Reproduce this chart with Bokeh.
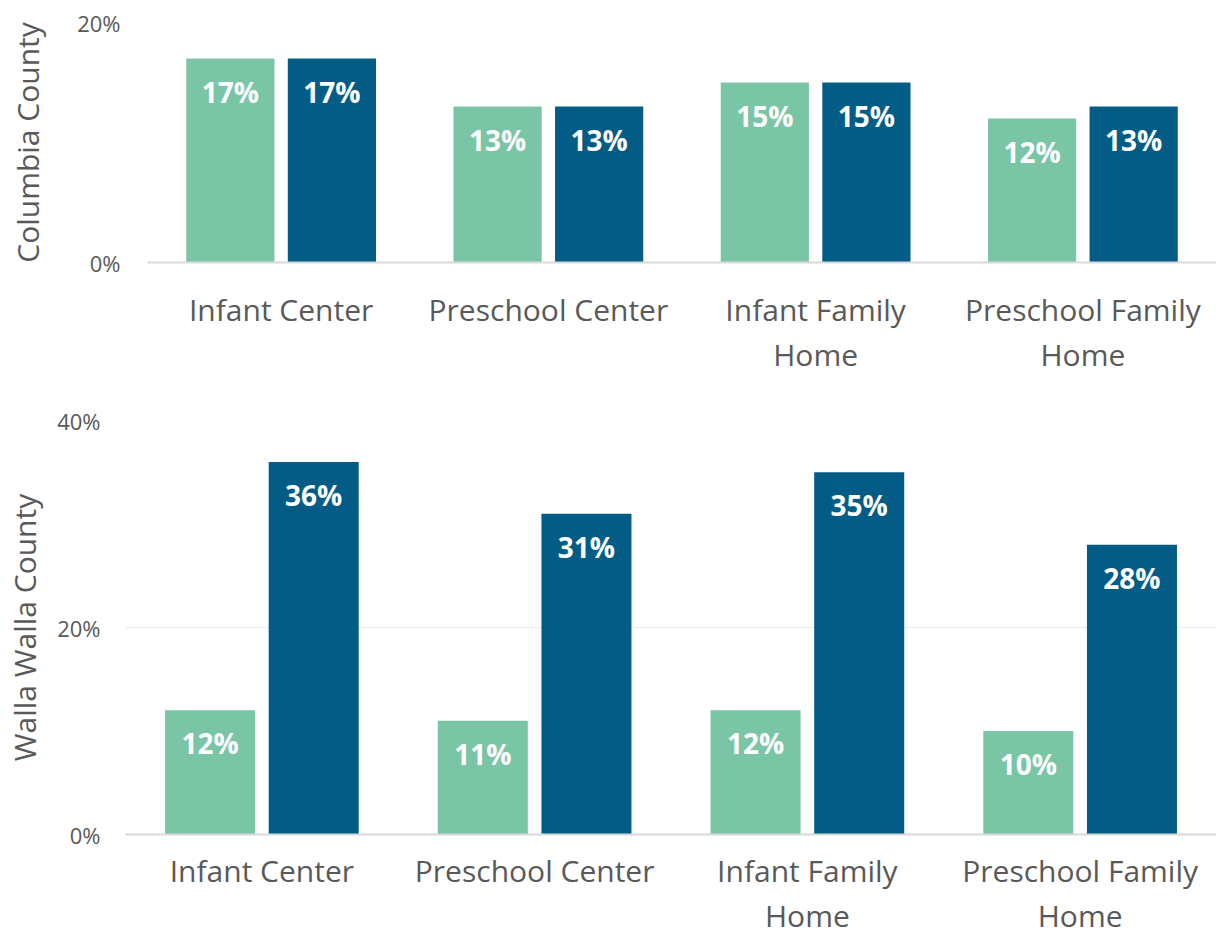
from bokeh.plotting import figure
from bokeh.models import ColumnDataSource, FactorRange, Range1d, FixedTicker, PrintfTickFormatter
from bokeh.transform import dodge
from bokeh.layouts import column, row
from bokeh.embed import file_html
from bokeh.resources import INLINE
from bokeh.core.properties import value

categories = ["Infant Center", "Preschool Center", "Infant Family\nHome", "Preschool Family\nHome"]

columbia_green = [17, 13, 15, 12]
columbia_blue = [17, 13, 15, 13]
walla_green = [12, 11, 12, 10]
walla_blue = [36, 31, 35, 28]

GREEN = "#7BC5A7"
BLUE = "#035C85"
GREY = "#595959"
FONT = "Open Sans"


def panel(green, blue, ymax, yticks, ylabel, height, top, bottom, left, label_standoff, tick_standoff, x_standoff):
    src = ColumnDataSource(dict(
        cat=categories,
        green=green,
        blue=blue,
        gtxt=[f"{v}%" for v in green],
        btxt=[f"{v}%" for v in blue],
    ))
    p = figure(x_range=FactorRange(*categories), y_range=Range1d(0, ymax),
               width=1216, height=height, output_backend="svg", toolbar_location=None,
               min_border_top=top, min_border_bottom=bottom, min_border_left=left,
               min_border_right=0)
    p.outline_line_color = None
    p.background_fill_color = "white"
    p.border_fill_color = "white"

    p.vbar(x=dodge("cat", -0.19, range=p.x_range), top="green", width=0.33, source=src,
           fill_color=GREEN, line_color=None)
    p.vbar(x=dodge("cat", 0.19, range=p.x_range), top="blue", width=0.33, source=src,
           fill_color=BLUE, line_color=None)
    for key, off, ycol in (("gtxt", -0.19, "green"), ("btxt", 0.19, "blue")):
        p.text(x=dodge("cat", off, range=p.x_range), y=ycol, text=key, source=src,
               text_color="white", text_font=value(FONT), text_font_style="bold",
               text_font_size="28px", text_align="center", text_baseline="middle",
               y_offset=33)

    # y axis
    p.yaxis.ticker = FixedTicker(ticks=yticks)
    p.yaxis.formatter = PrintfTickFormatter(format="%d%%")
    p.yaxis.axis_line_color = None
    p.yaxis.major_tick_line_color = None
    p.yaxis.minor_tick_line_color = None
    p.yaxis.major_tick_out = 0
    p.yaxis.major_tick_in = 0
    p.yaxis.major_label_text_font = FONT
    p.yaxis.major_label_text_font_size = "22px"
    p.yaxis.major_label_text_color = GREY
    p.yaxis.major_label_standoff = tick_standoff
    p.yaxis.axis_label = ylabel
    p.yaxis.axis_label_text_font = FONT
    p.yaxis.axis_label_text_font_size = "30px"
    p.yaxis.axis_label_text_font_style = "normal"
    p.yaxis.axis_label_text_color = GREY
    p.yaxis.axis_label_standoff = label_standoff

    # x axis
    p.xaxis.axis_line_color = "#D9D9D9"
    p.xaxis.axis_line_width = 2
    p.xaxis.major_tick_line_color = None
    p.xaxis.minor_tick_line_color = None
    p.xaxis.major_tick_out = 0
    p.xaxis.major_tick_in = 0
    p.xaxis.major_label_text_font = FONT
    p.xaxis.major_label_text_font_size = "30px"
    p.xaxis.major_label_text_line_height = 1.1
    p.xaxis.major_label_text_color = GREY
    p.xaxis.major_label_standoff = x_standoff

    p.xgrid.grid_line_color = None
    p.ygrid.grid_line_color = "#EEEEEE"
    p.ygrid.grid_line_width = 1.5
    return p


p1 = panel(columbia_green, columbia_blue, 20, [0, 20], "Columbia County",
           385, 22, 123, 147, 26, 27, 26)
p2 = panel(walla_green, walla_blue, 40, [0, 20, 40], "Walla Walla County",
           553, 35, 104, 125, 9, 25, 15)

p = column(row(p1), row(p2), spacing=0)
open("out.html", "w").write(file_html(p, INLINE))
